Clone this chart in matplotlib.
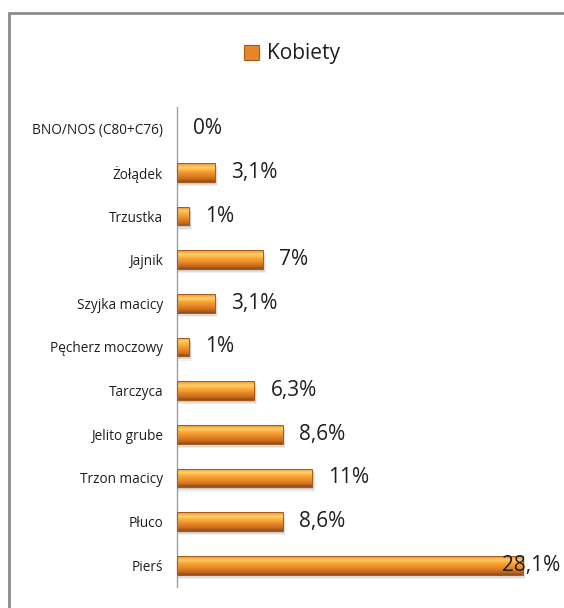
import matplotlib.pyplot as plt
import matplotlib.patches as mpatches
from matplotlib.colors import LinearSegmentedColormap
import numpy as np

# data (top to bottom as in the chart)
categories = ['BNO/NOS (C80+C76)', 'Żołądek', 'Trzustka', 'Jajnik', 'Szyjka macicy',
              'Pęcherz moczowy', 'Tarczyca', 'Jelito grube', 'Trzon macicy', 'Płuco', 'Pierś']
values = [0, 3.1, 1, 7, 3.1, 1, 6.3, 8.6, 11, 8.6, 28.1]
labels = ['0%', '3,1%', '1%', '7%', '3,1%', '1%', '6,3%', '8,6%', '11%', '8,6%', '28,1%']
series_name = 'Kobiety'

W, H = 564, 608
fig = plt.figure(figsize=(W / 100, H / 100), dpi=100)
fig.patch.set_facecolor('white')

# outer chart frame (right and bottom edges are cut off in the original)
frame = mpatches.Rectangle((9 / W, -0.05), 1.2, (H - 13) / H + 0.05, transform=fig.transFigure,
                           fill=False, edgecolor='#8c8c8c', lw=2, zorder=0)
fig.patches.append(frame)

ax_left, ax_right, ax_top, ax_bottom = 177, 560, 107, 587
ax = fig.add_axes([ax_left / W, 1 - ax_bottom / H, (ax_right - ax_left) / W, (ax_bottom - ax_top) / H])
px_per_unit = 12.3
xmax = (ax_right - ax_left) / px_per_unit
n = len(categories)
ypos = np.arange(n)
vals = np.array(values)

bar_h = 0.43
# gradient strips, top of bar first (y axis is inverted, smaller y = higher)
cmap = LinearSegmentedColormap.from_list(
    'bar', [(0.0, '#ec9634'), (0.2, '#fdd06a'), (0.4, '#f8a835'),
            (0.6, '#ec8d28'), (0.85, '#c96d1e'), (1.0, '#9a5014')])
K = 20
strip = bar_h / K

# soft shadow
for off, a in [(0.10, 0.06), (0.07, 0.08), (0.04, 0.08)]:
    ax.barh(ypos + off, np.where(vals > 0, vals + off * 1.5, 0), height=bar_h, left=0.05,
            color='black', alpha=a, lw=0, zorder=1)
for k in range(K):
    ax.barh(ypos - bar_h / 2 + (k + 0.5) * strip, vals, height=strip * 1.05,
            color=cmap(k / (K - 1)), lw=0, zorder=2)
# outline
ax.barh(ypos[vals > 0], vals[vals > 0], height=bar_h, fill=False,
        edgecolor='#a85a18', lw=0.7, zorder=3)

ax.set_xlim(0, xmax)
ax.set_ylim(n - 0.5, -0.5)

for i, (v, lab) in enumerate(zip(values, labels)):
    x_end_px = ax_left + v * px_per_unit + 16
    dx = -15 if x_end_px + 55 > W else 11.5
    ax.annotate(lab, (v, i), xytext=(dx, 0), textcoords='offset points', va='center',
                ha='left', fontsize=15, color='#1e1e1e', family='Open Sans', zorder=5)

ax.set_yticks(ypos)
ax.set_yticklabels(categories, fontsize=9.8, color='#1e1e1e', family='Open Sans')
ax.tick_params(axis='y', length=0, pad=10)
ax.set_xticks([])
for s in ['top', 'right', 'bottom']:
    ax.spines[s].set_visible(False)
ax.spines['left'].set_color('#a0a0a0')
ax.spines['left'].set_linewidth(1)
ax.patch.set_visible(False)

handle = mpatches.Patch(facecolor='#e8862a', edgecolor='#a85a18', lw=0.8)
fig.legend(handles=[handle], labels=[series_name], loc='center',
           bbox_to_anchor=(292 / W, 1 - 54 / H), frameon=False,
           handlelength=0.75, handleheight=0.75, handletextpad=0.4,
           prop={'family': 'Open Sans', 'size': 15}, labelcolor='#1e1e1e')

plt.savefig('out.png', dpi=100)
